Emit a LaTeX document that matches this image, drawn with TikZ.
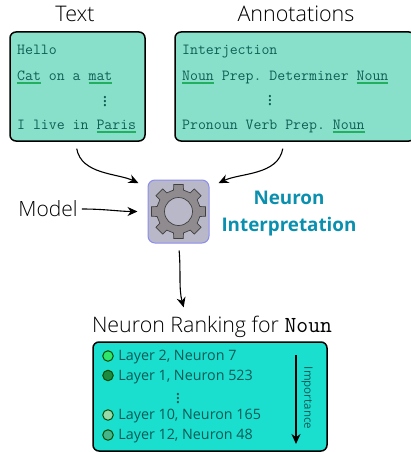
\documentclass[tikz,border=0pt]{standalone}
\usepackage{amsmath}
\usepackage{fontspec}
\setmainfont{Open Sans}
\newfontfamily\lightfont{Open Sans Light}
\setmonofont{Latin Modern Mono}
\usepackage{xcolor}
\usetikzlibrary{positioning, arrows.meta, calc}
\definecolor{boxColor}{HTML}{88E0CB}
\definecolor{rankColor}{HTML}{1ADFCF}
\definecolor{monoColor}{HTML}{0E5F53}
\definecolor{rankText}{HTML}{0C5A55}
\definecolor{underColor}{HTML}{22B060}
\definecolor{gearBack}{HTML}{B8B8C8}
\definecolor{gearEdge}{HTML}{8C8CF0}
\definecolor{gearColor}{HTML}{8F8B8F}
\definecolor{interpColor}{HTML}{0A8FAE}
\newcommand{\uword}[1]{\setbox0\hbox{#1}\rlap{\color{underColor}\rule[-3.6pt]{\wd0}{1.4pt}}#1}
\tikzset{
    databox/.style={
        draw=black,
        line width=1.5pt,
        rounded corners=6pt,
        fill=boxColor,
        inner sep=0pt
    },
    heading/.style={
        font=\fontsize{21.5}{24}\selectfont\lightfont,
        inner sep=0pt
    },
    monoline/.style={
        font=\fontsize{15.4}{18}\selectfont\ttfamily,
        text=monoColor,
        anchor=base west,
        inner sep=0pt
    },
    rankline/.style={
        font=\fontsize{14.3}{17}\selectfont,
        text=rankText,
        anchor=west,
        inner sep=0pt
    },
    rankdot/.style={
        circle,
        draw=black!70!green,
        line width=1pt,
        minimum size=10.5pt,
        inner sep=0pt
    },
    conn/.style={
        ->,
        >={Stealth[length=10pt,width=9pt]},
        line width=1.1pt
    },
    vdots/.style={
        font=\fontsize{18}{18}\selectfont,
        inner sep=0pt
    }
}

\begin{document}
\begin{tikzpicture}[x=1pt, y=1pt]
    \useasboundingbox (0,0) rectangle (410,-452);

    % Input boxes
    \node[databox, minimum width=135pt, minimum height=109pt] (textbox) at (77.5,-86.5) {};
    \node[databox, minimum width=240pt, minimum height=109pt] (annotbox) at (295,-86.5) {};
    \node[heading] (textlabel) at (75,-14) {Text};
    \node[heading] (annotlabel) at (296,-14) {Annotations};

    \node[monoline] (hello) at (17,-55) {Hello};
    \node[monoline] (cat) at (17,-80) {\uword{Cat} on a \uword{mat}};
    \node[vdots, text=monoColor] (textdots) at (105,-99) {$\vdots$};
    \node[monoline] (paris) at (17,-129) {I live in \uword{Paris}};

    \node[monoline] (interj) at (182,-55) {Interjection};
    \node[monoline] (nouns) at (182,-80) {\uword{\textbf{Noun}} Prep. Determiner \uword{\textbf{Noun}}};
    \node[vdots, text=monoColor] (annotdots) at (270,-98) {$\boldsymbol{\vdots}$};
    \node[monoline] (pronoun) at (182,-129) {Pronoun Verb Prep. \uword{\textbf{Noun}}};

    % Gear
    \node[draw=gearEdge, line width=1pt, fill=gearBack, rounded corners=7pt,
          minimum width=61pt, minimum height=63pt, inner sep=0pt] (gearbox) at (178.5,-211.5) {};
    \draw[draw=black!75, fill=gearColor, line width=0.7pt] ($(gearbox.center)+(-13:22pt)$)
        \foreach \ang in {0,45,...,315}{
            -- ($(gearbox.center)+(\ang-13:22pt)$)
            -- ($(gearbox.center)+(\ang-10:27.5pt)$)
            -- ($(gearbox.center)+(\ang+10:27.5pt)$)
            -- ($(gearbox.center)+(\ang+13:22pt)$)
        } -- cycle;
    \draw[draw=black!75, fill=gearBack, line width=0.7pt] (gearbox.center) circle (14pt);

    \node[heading, font=\fontsize{21}{24}\selectfont\lightfont] (modellabel) at (48,-209) {Model};
    \node[font=\fontsize{18.8}{27}\selectfont\bfseries, text=interpColor, align=center,
          inner sep=0pt] (interp) at (289,-213.5) {Neuron\\Interpretation};

    \draw[conn, shorten <=7pt, shorten >=10pt] ([xshift=-2pt]textbox.south) to[out=-80, in=155] (gearbox.142);
    \draw[conn, shorten <=7pt, shorten >=10pt] ([xshift=-11pt]annotbox.south) to[out=-100, in=25] (gearbox.38);
    \draw[conn, shorten <=4pt, shorten >=10pt] (modellabel.east) to[out=0, in=180] (gearbox.west);

    % Ranking
    \node[heading, font=\fontsize{21.4}{24}\selectfont\lightfont] (ranktitle) at (212,-327)
        {Neuron Ranking for {\fontsize{23}{24}\selectfont\ttfamily Noun}};
    \node[databox, fill=rankColor, minimum width=234pt, minimum height=109pt] (rankbox) at (210,-396.5) {};
    \draw[conn, shorten <=7pt, shorten >=9pt] (gearbox.south) to[out=-85, in=105] ([xshift=-26pt]ranktitle.north);

    \foreach \name/\dotcol/\ypos/\txt in {
        rowa/2EE66A/356/{Layer 2, Neuron 7},
        rowb/1D8A3F/375.5/{Layer 1, Neuron 523},
        rowc/97D9AA/415/{Layer 10, Neuron 165},
        rowd/45B68A/435/{Layer 12, Neuron 48}}{
        \definecolor{dotfill}{HTML}{\dotcol}
        \node[rankdot, fill=dotfill] (\name dot) at (108,-\ypos) {};
        \node[rankline, right=4.5pt of \name dot, yshift=-1.5pt] (\name) {\txt};
    }
    \node[vdots, text=rankText] (rankdots) at (178,-396) {$\vdots$};

    \coordinate (imptop) at (296,-355);
    \coordinate (impbot) at (296,-444);
    \draw[conn] (imptop) -- (impbot);
    \node[rotate=-90, font=\fontsize{11.5}{14}\selectfont, text=rankText, inner sep=0pt] (implabel) at (307,-398) {Importance};
\end{tikzpicture}
\end{document}
